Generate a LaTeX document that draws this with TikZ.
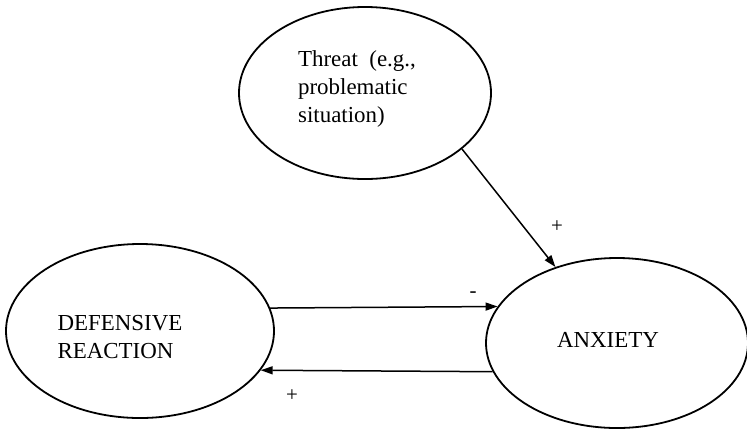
\documentclass[tikz,border=0pt]{standalone}
\usepackage{fontspec}
\setmainfont{Liberation Serif}
\usetikzlibrary{shapes.geometric,arrows.meta}
\begin{document}
\begin{tikzpicture}[x=1bp,y=-1bp,
  bubble/.style={draw,ellipse,line width=1.8bp,inner sep=0pt},
  txt/.style={align=left,inner sep=0pt,font=\fontsize{23}{28.5}\selectfont},
  link/.style={line width=1.5bp,-{Triangle[length=12bp,width=8bp]}},
  sign/.style={font=\fontsize{21}{24}\selectfont,inner sep=0pt}]
\useasboundingbox (0,0) rectangle (747,430);
\node[bubble,minimum width=252bp,minimum height=172bp] (thr) at (365,93) {};
\node[bubble,minimum width=268bp,minimum height=174bp] (def) at (140,331) {};
\node[bubble,minimum width=262bp,minimum height=170bp] (anx) at (617,343) {};
\node[txt] (thrt) at (357,89) {Threat\ \ (e.g.,\\problematic\\situation)};
\node[txt] (deft) at (120,337) {DEFENSIVE\\REACTION};
\node[txt] (anxt) at (608,340) {ANXIETY};
\draw[link] (thr.-30.6) -- (anx.129.2);
\draw[link] (def.10.09) -- (anx.163.66);
\draw[link] (anx.-167.74) -- (def.-18.03);
\node[sign] (p1) at (557,227) {+};
\node[sign] (m1) at (473,295) {-};
\node[sign] (p2) at (292,396) {+};
\end{tikzpicture}
\end{document}
